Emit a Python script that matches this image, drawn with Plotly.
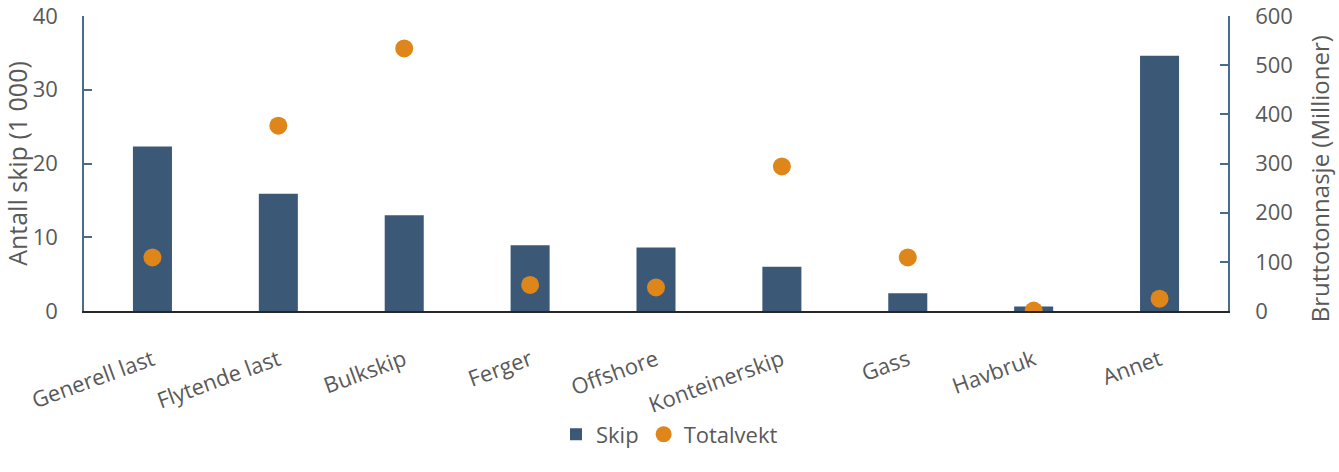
import plotly.graph_objects as go

categories = ["Generell last", "Flytende last", "Bulkskip", "Ferger", "Offshore",
              "Konteinerskip", "Gass", "Havbruk", "Annet"]
skip = [22.3, 15.9, 13.0, 8.9, 8.6, 6.0, 2.4, 0.6, 34.6]
totalvekt = [109, 377, 534, 53, 48, 294, 109, 1, 25]

left_ticks = [0, 10, 20, 30, 40]
right_ticks = [0, 100, 200, 300, 400, 500, 600]

bar_color = "#3B5877"
dot_color = "#DF861B"
text_color = "#595959"
axis_color = "#4A6B8C"
font_family = "Open Sans"

fig = go.Figure()
fig.add_trace(go.Bar(
    x=categories, y=skip, name="Skip", marker_color=bar_color,
    marker_line_width=0, width=0.31, yaxis="y",
))
fig.add_trace(go.Scatter(
    x=categories, y=totalvekt, name="Totalvekt", mode="markers",
    marker=dict(color=dot_color, size=18), yaxis="y2",
))

fig.update_layout(
    width=1339, height=472,
    margin=dict(l=84, r=111, t=16, b=161),
    paper_bgcolor="white", plot_bgcolor="white",
    font=dict(family=font_family, color=text_color, size=22),
    showlegend=True,
    legend=dict(orientation="h", xref="container", x=0.5, xanchor="center",
                yref="container", y=0.035, yanchor="bottom",
                font=dict(size=22, color=text_color), itemwidth=30),
    xaxis=dict(
        type="category", tickangle=-20, showline=True, linecolor="#262626",
        linewidth=1.5, ticks="", showgrid=False, tickfont=dict(size=22),
        automargin=False, ticklabelstandoff=26,
    ),
    yaxis=dict(
        range=[0, 40], tickvals=left_ticks, showline=True, linecolor=axis_color,
        linewidth=1.5, ticks="inside", ticklen=8, tickcolor=axis_color, tickwidth=1.5,
        showgrid=False, zeroline=False, tickfont=dict(size=22),
        title=dict(text="Antall skip (1 000)", font=dict(size=25), standoff=1),
        automargin=False, ticklabelstandoff=20, ticklabeloverflow="allow",
    ),
    yaxis2=dict(
        range=[0, 600], tickvals=right_ticks, overlaying="y", side="right",
        showline=True, linecolor=axis_color, linewidth=1.5, ticks="inside",
        ticklen=8, tickcolor=axis_color, tickwidth=1.5, showgrid=False, zeroline=False,
        tickfont=dict(size=22),
        automargin=False, ticklabelstandoff=21, ticklabeloverflow="allow",
    ),
    annotations=[dict(
        text="Bruttotonnasje (Millioner)", textangle=-90, showarrow=False,
        xref="paper", yref="paper", x=1.0795, y=0.45,
        xanchor="center", yanchor="middle", font=dict(size=24, color=text_color),
    )],
)

fig.write_html("out.html")
